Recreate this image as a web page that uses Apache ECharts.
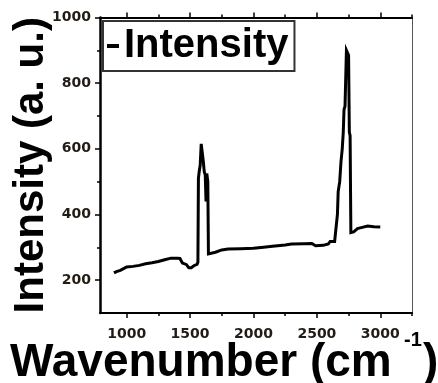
<!DOCTYPE html>
<html>
<head>
<meta charset="utf-8">
<script src="https://cdn.jsdelivr.net/npm/echarts@6/dist/echarts.min.js"></script>
<style>
  html, body { margin: 0; padding: 0; background: #fff; }
  #chart { width: 438px; height: 383px; }
</style>
</head>
<body>
<div id="chart"></div>
<script>
// Raman spectrum
const wavenumber = [
  900, 920, 950, 980, 1000, 1050, 1100, 1150, 1200, 1250, 1300, 1350, 1400, 1420,
  1440, 1470, 1490, 1510, 1530, 1555, 1562, 1566, 1572, 1580, 1588, 1600, 1605,
  1612, 1620, 1626, 1632, 1640, 1645, 1660, 1700, 1750, 1800, 1900, 2000, 2080,
  2150, 2250, 2300, 2400, 2460, 2490, 2550, 2590, 2605, 2640, 2655, 2662, 2668,
  2680, 2690, 2700, 2708, 2714, 2722, 2733, 2742, 2750, 2756, 2762, 2768, 2790,
  2820, 2850, 2900, 2950, 3000
];
const intensity = [
  222, 226, 230, 236, 240, 242, 245, 250, 253, 257, 262, 267, 267, 266,
  252, 248, 238, 238, 244, 248, 255, 510, 530, 550, 615, 615, 560,
  530, 520, 440, 525, 500, 280, 283, 285, 292, 295, 296, 297, 300,
  303, 307, 310, 311, 312, 305, 306, 310, 318, 318, 322, 400, 470,
  500, 560, 600, 650, 720, 730, 900, 905, 885, 650, 640, 345, 347,
  357, 360, 365, 363, 362
];

const xTicks = [1000, 1500, 2000, 2500, 3000];
const xMinorTicks = [1250, 1750, 2250, 2750, 3250];
const yTicks = [200, 400, 600, 800, 1000];
const yMinorTicks = [300, 500, 700, 900];

const chart = echarts.init(document.getElementById('chart'));

const xRange = { min: 790, max: 3250 };
const yRange = { min: 100, max: 1000 };
const tickFont = { fontFamily: 'DejaVu Sans', fontWeight: 'bold', fontSize: 14, color: '#221c14', formatter: v => String(v) };

function xAxisDef(pos, ticks, len, labels, line) {
  return {
    type: 'value', position: pos, ...xRange,
    axisLine: { show: line, onZero: false, lineStyle: { color: '#000', width: 2 } },
    axisTick: { show: true, inside: false, length: len, customValues: ticks, lineStyle: { color: '#000', width: 1.5 } },
    axisLabel: labels ? { customValues: ticks, margin: 14, ...tickFont } : { show: false },
    splitLine: { show: false }
  };
}
function yAxisDef(ticks, len, labels) {
  return {
    type: 'value', position: 'left', ...yRange,
    axisLine: { show: labels, onZero: false, lineStyle: { color: '#000', width: 2.5 } },
    axisTick: { show: true, inside: false, length: len, customValues: ticks, lineStyle: { color: '#000', width: 1.5 } },
    axisLabel: labels ? { customValues: ticks, margin: 9, ...tickFont } : { show: false },
    splitLine: { show: false }
  };
}

const yMain = yAxisDef(yTicks, 5, true);
yMain.name = 'Intensity (a. u.)';
yMain.nameLocation = 'middle';
yMain.nameGap = 48;
yMain.nameMoveOverlap = false;
yMain.nameTextStyle = { fontFamily: 'Liberation Sans', fontWeight: 'bold', fontSize: 42, color: '#000' };

const option = {
  animation: false,
  backgroundColor: '#fff',
  grid: { left: 100, right: 26, top: 17.5, bottom: 70, outerBoundsMode: 'none', containLabel: false },
  legend: {
    left: 103, top: 21,
    icon: 'rect', itemWidth: 12, itemHeight: 4,
    padding: [4, 6, 4, 4],
    borderColor: '#333', borderWidth: 2,
    textStyle: { fontFamily: 'Liberation Sans', fontWeight: 'bold', fontSize: 40, color: '#000', lineHeight: 42 },
    data: ['Intensity']
  },
  xAxis: [
    xAxisDef('bottom', xTicks, 5, true, true),
    xAxisDef('bottom', xMinorTicks, 3, false, false),
    xAxisDef('top', xTicks, 5, false, true),
    xAxisDef('top', xMinorTicks, 3, false, false)
  ],
  yAxis: [
    yMain,
    yAxisDef(yMinorTicks, 3, false),
    {
      type: 'value', position: 'right', ...yRange,
      axisLine: { show: true, onZero: false, lineStyle: { color: '#555', width: 1 } },
      axisTick: { show: false }, axisLabel: { show: false }, splitLine: { show: false }
    }
  ],
  graphic: [
    { type: 'text', left: 10, top: 340, style: { text: 'Wavenumber (cm', fontFamily: 'Liberation Sans', fontWeight: 'bold', fontSize: 46, fill: '#000' } },
    { type: 'text', left: 404, top: 330, style: { text: '-1', fontFamily: 'Liberation Sans', fontWeight: 'bold', fontSize: 20, fill: '#000' } },
    { type: 'text', left: 423, top: 340, style: { text: ')', fontFamily: 'Liberation Sans', fontWeight: 'bold', fontSize: 46, fill: '#000' } }
  ],
  series: [{
    name: 'Intensity',
    type: 'line',
    xAxisIndex: 0,
    yAxisIndex: 0,
    showSymbol: false,
    color: '#000',
    lineStyle: { color: '#000', width: 3, join: 'miter' },
    data: wavenumber.map((w, i) => [w, intensity[i]])
  }]
};

chart.setOption(option);
</script>
</body>
</html>
